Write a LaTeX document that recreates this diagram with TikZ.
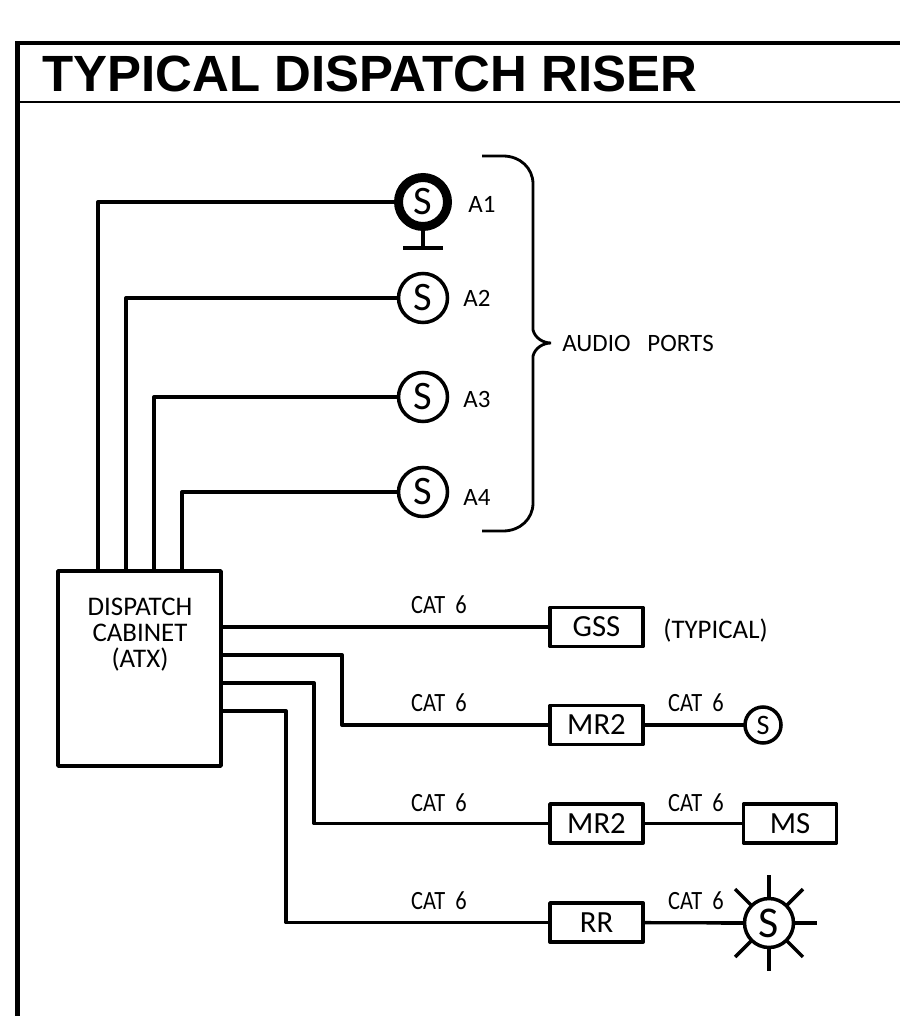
\documentclass[tikz,border=0pt]{standalone}
\usepackage{fontspec}
\setmainfont{Liberation Sans}
\newfontfamily\cadfont{Carlito}
\newfontfamily\cadnarrow[FakeStretch=0.85]{Carlito}
\usetikzlibrary{
	calc,
	positioning
}
\tikzset{
	wire/.style={line width=1.9pt, line join=round},
	unitbox/.style={draw, line width=2.2pt, line join=round, minimum width=1.86cm, minimum height=0.78cm, inner sep=0pt, outer sep=0pt, font=\cadfont\fontsize{17.5}{17.5}\selectfont},
	horn/.style={draw, circle, line width=2pt, minimum size=0.98cm, inner sep=0pt, outer sep=0pt, font=\cadfont\fontsize{23}{23}\selectfont},
	cadtext/.style={inner sep=0pt, font=\cadfont\fontsize{15.3}{14.8}\selectfont},
	porttext/.style={inner sep=0pt, anchor=west, font=\cadfont\fontsize{14.2}{14.2}\selectfont},
	cattext/.style={inner sep=0pt, font=\cadnarrow\fontsize{15}{15}\selectfont}
}

\begin{document}
\begin{tikzpicture}[x=0.02cm, y=-0.02cm]
		\useasboundingbox (0,0) rectangle (900,1016);
		
		% frame and title
		\coordinate (FrameBL) at (17.5,1016);
		\coordinate (FrameTL) at (17.5,43);
		\coordinate (FrameTR) at (900,43);
		\coordinate (RuleL) at (17.5,102);
		\coordinate (RuleR) at (900,102);
		\draw[line width=2.8pt, line join=miter] (FrameBL) -- (FrameTL) -- (FrameTR);
		\draw[line width=1.1pt] (RuleL) -- (RuleR);
		\node[anchor=base west, inner sep=0pt, font=\fontsize{29}{30}\selectfont\bfseries] (title) at (42,92) {TYPICAL DISPATCH RISER};
		
		% cabinet
		\node[draw, line width=2.2pt, line join=round, minimum width=3.26cm, minimum height=3.9cm, inner sep=0pt, outer sep=0pt] (cabinet) at (139.5,668.5) {};
		\node[cadtext, align=center, anchor=north] (cabinetlabel) at (140,598) {DISPATCH\\CABINET\\(ATX)};
		
		% audio ports
		\node[horn, line width=5.1pt, minimum size=0.98cm] (hornA) at (423,202) {S};
		\node[horn] (hornB) at (423,298) {S};
		\node[horn] (hornC) at (423,397) {S};
		\node[horn] (hornD) at (423,492) {S};
		\node[porttext] (labelA) at (468,204) {A1};
		\node[porttext] (labelB) at (463,298) {A2};
		\node[porttext] (labelC) at (463,399) {A3};
		\node[porttext] (labelD) at (463,497) {A4};
		
		\coordinate (PostEnd) at (423,248);
		\coordinate (BarL) at (403,248);
		\coordinate (BarR) at (443,248);
		\draw[wire] (hornA.south) -- (hornA.south |- PostEnd);
		\draw[wire] (BarL) -- (BarR);
		
		\coordinate (TapA) at (98,571);
		\coordinate (TapB) at (126,571);
		\coordinate (TapC) at (154,571);
		\coordinate (TapD) at (182,571);
		\draw[wire] (TapA) |- (hornA);
		\draw[wire] (TapB) |- (hornB);
		\draw[wire] (TapC) |- (hornC);
		\draw[wire] (TapD) |- (hornD);
		
		% brace
		\draw[line width=1.6pt] (482,156) -- (503,156)
			.. controls (520,156) and (533,168) .. (533,184) -- (533,330)
			.. controls (535,338) and (543,343) .. (551,343)
			.. controls (543,343) and (535,348) .. (533,356) -- (533,503)
			.. controls (533,519) and (520,531) .. (503,531) -- (482,531);
		\node[porttext] (ports) at (562,343) {AUDIO\ \ \ PORTS};
		
		% cat 6 units
		\node[unitbox] (gss) at (596.5,627) {GSS};
		\node[unitbox] (mrA) at (596.5,725) {MR2};
		\node[unitbox] (mrB) at (596.5,823.5) {MR2};
		\node[unitbox] (rr) at (596.5,922.5) {RR};
		\node[unitbox] (ms) at (790,823.5) {MS};
		\node[horn, minimum size=0.72cm, font=\cadfont\fontsize{16}{16}\selectfont] (hornE) at (763,725) {S};
		\node[horn, font=\cadfont\fontsize{25}{25}\selectfont] (hornF) at (769,923) {S};
		\node[cadtext, anchor=west] (typical) at (663,631) {(TYPICAL)};
		
		\foreach \ang in {0,45,...,315}
			\draw[wire, line width=2pt] (hornF.\ang) -- ($(hornF)+(\ang:48 and -48)$);
		
		\coordinate (TapE) at (222,627);
		\coordinate (TapF) at (222,655);
		\coordinate (TapG) at (222,683);
		\coordinate (TapH) at (222,711);
		\coordinate (BendF) at (342,655);
		\coordinate (BendG) at (314,683);
		\coordinate (BendH) at (286,711);
		\draw[wire] (TapE) -- (gss);
		\draw[wire] (TapF) -- (BendF) |- (mrA);
		\draw[wire] (TapG) -- (BendG) |- (mrB);
		\draw[wire] (TapH) -- (BendH) |- (rr);
		\draw[wire] (mrA) -- (hornE);
		\draw[wire] (mrB) -- (ms);
		\draw[wire] (rr) -- (hornF);
		
		\node[cattext] (catA) at (439,605) {CAT\ \ 6};
		\node[cattext] (catB) at (439,703) {CAT\ \ 6};
		\node[cattext] (catC) at (439,803) {CAT\ \ 6};
		\node[cattext] (catD) at (439,901) {CAT\ \ 6};
		\node[cattext] (catE) at (696,703) {CAT\ \ 6};
		\node[cattext] (catF) at (696,803) {CAT\ \ 6};
		\node[cattext] (catG) at (696,901) {CAT\ \ 6};
	\end{tikzpicture}
\end{document}
